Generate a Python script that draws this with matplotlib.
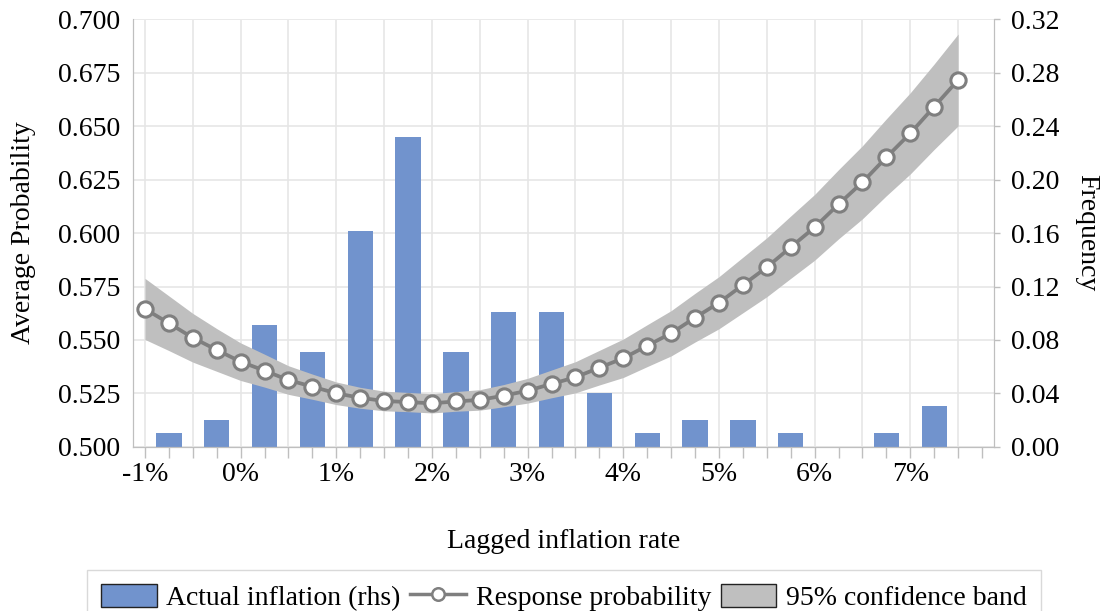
import numpy as np
import matplotlib
matplotlib.use("Agg")
import matplotlib.pyplot as plt
from matplotlib.patches import Patch
from matplotlib.lines import Line2D
from matplotlib.ticker import MultipleLocator, FuncFormatter, FixedLocator

plt.rcParams['font.family'] = ['Liberation Serif', 'DejaVu Serif']
plt.rcParams['font.size'] = 20

# Lagged inflation rate (%), line/band grid
x_line = [-1.0, -0.75, -0.5, -0.25, 0.0, 0.25, 0.5, 0.75, 1.0, 1.25, 1.5, 1.75,
          2.0, 2.25, 2.5, 2.75, 3.0, 3.25, 3.5, 3.75, 4.0, 4.25, 4.5, 4.75,
          5.0, 5.25, 5.5, 5.75, 6.0, 6.25, 6.5, 6.75, 7.0, 7.25, 7.5]
response_prob = [0.5645, 0.5578, 0.5510, 0.5453, 0.5398, 0.5356, 0.5312, 0.5281,
                 0.5250, 0.5229, 0.5214, 0.5209, 0.5203, 0.5212, 0.5219, 0.5239,
                 0.5262, 0.5294, 0.5325, 0.5370, 0.5414, 0.5473, 0.5531, 0.5604,
                 0.5674, 0.5757, 0.5840, 0.5934, 0.6027, 0.6135, 0.6238, 0.6355,
                 0.6467, 0.6592, 0.6717]
band_upper = [0.5788, 0.5706, 0.5624, 0.5553, 0.5486, 0.5433, 0.5379, 0.5340,
              0.5303, 0.5278, 0.5260, 0.5254, 0.5248, 0.5258, 0.5267, 0.5291,
              0.5320, 0.5359, 0.5398, 0.5451, 0.5504, 0.5571, 0.5637, 0.5718,
              0.5796, 0.5887, 0.5978, 0.6080, 0.6181, 0.6297, 0.6409, 0.6535,
              0.6657, 0.6792, 0.6932]
band_lower = [0.5502, 0.5450, 0.5396, 0.5353, 0.5310, 0.5279, 0.5245, 0.5222,
              0.5197, 0.5180, 0.5168, 0.5164, 0.5158, 0.5166, 0.5171, 0.5187,
              0.5204, 0.5229, 0.5252, 0.5289, 0.5324, 0.5375, 0.5425, 0.5490,
              0.5552, 0.5627, 0.5702, 0.5788, 0.5873, 0.5973, 0.6067, 0.6175,
              0.6277, 0.6392, 0.6502]

# Histogram of actual inflation (rhs)
bar_centers = [-0.75, -0.25, 0.25, 0.75, 1.25, 1.75, 2.25, 2.75, 3.25, 3.75,
               4.25, 4.75, 5.25, 5.75, 6.25, 6.75, 7.25]
bar_freq = [0.0101, 0.0202, 0.0909, 0.0707, 0.1616, 0.2323, 0.0707, 0.1010,
            0.1010, 0.0404, 0.0101, 0.0202, 0.0202, 0.0101, 0.0, 0.0101, 0.0303]

x_tick_vals = [-1, 0, 1, 2, 3, 4, 5, 6, 7]
x_tick_labels = ['-1%', '0%', '1%', '2%', '3%', '4%', '5%', '6%', '7%']

BLUE = '#7193CD'
BAND = '#BFBFBF'
LINE = '#7F7F7F'
GRID = '#E6E6E6'
SPINE = '#BFBFBF'

fig = plt.figure(figsize=(11.07, 6.11), dpi=100)
ax = fig.add_axes([133/1107, 1-446.7/611, (994-133)/1107, (446.7-19.5)/611])
ax2 = ax.twinx()

# bars on secondary axis (behind)
ax2.bar(bar_centers, bar_freq, width=0.265, color=BLUE, zorder=2)
ax2.set_ylim(0, 0.32)
ax2.yaxis.set_major_locator(MultipleLocator(0.04))
ax2.yaxis.set_major_formatter(FuncFormatter(lambda v, p: f'{v:.2f}'))
ax2.grid(axis='y', color=GRID, linewidth=1.2, zorder=0)
ax2.set_axisbelow(True)
ax2.set_ylabel('Frequency', rotation=270, labelpad=29)
ax2.tick_params(axis='y', direction='out', length=4, width=1, color=SPINE, pad=8)

ax.set_zorder(ax2.get_zorder() + 1)
ax.patch.set_visible(False)

ax.fill_between(x_line, band_lower, band_upper, color=BAND, linewidth=0, zorder=2)
ax.plot(x_line, response_prob, color=LINE, linewidth=2.7, marker='o',
        markersize=11, markerfacecolor='white', markeredgecolor=LINE,
        markeredgewidth=2.2, zorder=3)

ax.set_xlim(-1.125, 7.875)
ax.set_ylim(0.5, 0.7)
ax.yaxis.set_major_locator(MultipleLocator(0.025))
ax.yaxis.set_major_formatter(FuncFormatter(lambda v, p: f'{v:.3f}'))
ax.tick_params(axis='y', length=0, pad=9)

half_steps = list(np.arange(-1.0, 7.51, 0.5))
ax.xaxis.set_major_locator(FixedLocator(half_steps))
lbl = dict(zip(x_tick_vals, x_tick_labels))
ax.xaxis.set_major_formatter(FuncFormatter(
    lambda v, p: lbl.get(int(round(v)), '') if abs(v - round(v)) < 1e-6 else ''))
ax.xaxis.set_minor_locator(MultipleLocator(0.25))
ax.tick_params(axis='x', which='both', direction='out', length=8, width=1,
               color=SPINE, pad=3)
ax.grid(axis='x', which='major', color=GRID, linewidth=1.2, zorder=0)

for a in (ax, ax2):
    for s in ['left', 'right', 'bottom', 'top']:
        a.spines[s].set_color(SPINE)
    a.spines['top'].set_visible(False)

ax.set_xlabel('Lagged inflation rate', labelpad=30)
ax.set_ylabel('Average Probability', labelpad=16)

handles = [
    Patch(facecolor=BLUE, edgecolor='#222222', linewidth=1),
    Line2D([0], [0], color=LINE, linewidth=2.5, marker='o', markersize=9,
           markerfacecolor='white', markeredgecolor=LINE, markeredgewidth=1.8),
    Patch(facecolor=BAND, edgecolor='#222222', linewidth=1),
]
labels = ['Actual inflation (rhs)', 'Response probability', '95% confidence band']
leg = fig.legend(handles, labels, loc='upper center', ncol=3,
                 bbox_to_anchor=(564/1107, 1 - 570/611), frameon=True,
                 fancybox=False, edgecolor='#D9D9D9', framealpha=1,
                 handlelength=2.0, handleheight=0.9, handletextpad=0.35,
                 columnspacing=0.35, borderpad=0.5, borderaxespad=0,
                 fontsize=20)
leg.get_frame().set_linewidth(1)

fig.savefig('out.png', dpi=100)
